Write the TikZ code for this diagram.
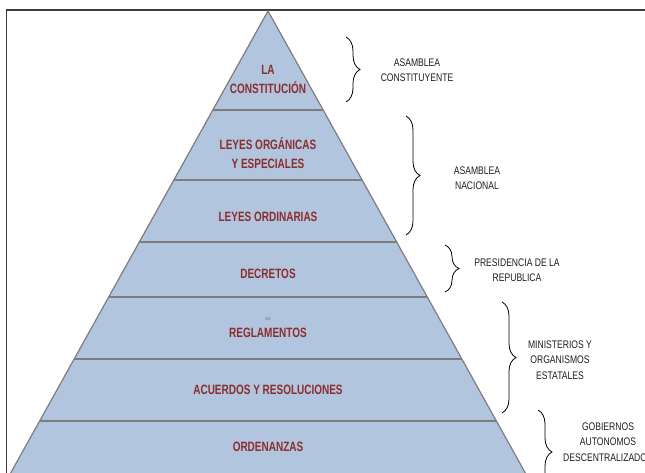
\documentclass[tikz,border=0pt]{standalone}
\usepackage{fontspec}
\setmainfont{Liberation Sans}
\newfontfamily\labfont[FakeStretch=0.74]{Liberation Sans}
\newfontfamily\sidefont[FakeStretch=0.78]{Liberation Sans}
\usetikzlibrary{decorations.pathreplacing}
\definecolor{pyrfill}{RGB}{178,197,222}
\definecolor{pyredge}{RGB}{125,125,125}
\definecolor{labred}{RGB}{140,45,45}
\definecolor{framecol}{RGB}{60,60,60}
\definecolor{sidecol}{RGB}{30,30,30}
\tikzset{
  lvl/.style={text=labred, font=\labfont\bfseries\fontsize{13.5}{19}\selectfont, align=center, inner sep=0pt},
  side/.style={text=sidecol, font=\sidefont\fontsize{11}{15.5}\selectfont, align=center, inner sep=0pt},
  brc/.style={draw=black, line width=0.8pt, decorate, decoration={brace, amplitude=14pt}},
  sep/.style={draw=pyredge, line width=1.6pt},
}
\begin{document}
\begin{tikzpicture}[x=1pt,y=-1pt]
\useasboundingbox (0,0) rectangle (645,472);
\clip (0,0) rectangle (645,472);
% frame
\draw[framecol, line width=1.5pt] (6.5,520) -- (6.5,10) -- (700,10);
% pyramid
\coordinate (apex) at (268,11);
\coordinate (bl) at ({268-0.557*489},500);
\coordinate (br) at ({268+0.557*489},500);
\fill[pyrfill] (apex) -- (bl) -- (br) -- cycle;
\foreach \yy in {110,180,242,297,359,421}{
  \draw[sep] ({268-0.557*(\yy-11)},\yy) -- ({268+0.557*(\yy-11)},\yy);
}
\draw[pyredge, line width=1.2pt] (bl) -- (apex) -- (br);
% level labels
\node[lvl] (constitucion) at (268,79) {LA\\CONSTITUCIÓN};
\node[lvl] (organicas) at (268,153) {LEYES ORGÁNICAS\\Y ESPECIALES};
\node[lvl] (ordinarias) at (268,217) {LEYES ORDINARIAS};
\node[lvl] (decretos) at (268,274) {DECRETOS};
\node[text=gray, font=\fontsize{8}{8}\selectfont, inner sep=0pt] (inf) at (268,320) {∞};
\node[lvl] (reglamentos) at (268,333) {REGLAMENTOS};
\node[lvl] (acuerdos) at (268,390) {ACUERDOS Y RESOLUCIONES};
\node[lvl] (ordenanzas) at (268,447) {ORDENANZAS};
% braces
\coordinate (b1t) at (346,37);  \coordinate (b1b) at (346,102);
\coordinate (b2t) at (406,116); \coordinate (b2b) at (406,235);
\coordinate (b3t) at (445,245); \coordinate (b3b) at (445,292);
\coordinate (b4t) at (502,302); \coordinate (b4b) at (502,413);
\coordinate (b5t) at (538,410); \coordinate (b5b) at (538,494);
\draw[brc] (b1t) -- (b1b);
\draw[brc] (b2t) -- (b2b);
\draw[brc] (b3t) -- (b3b);
\draw[brc] (b4t) -- (b4b);
\draw[brc] (b5t) -- (b5b);
% side labels
\node[side] (constituyente) at (417,70) {ASAMBLEA\\CONSTITUYENTE};
\node[side] (nacional) at (477,178) {ASAMBLEA\\NACIONAL};
\node[side] (presidencia) at (517,270) {PRESIDENCIA DE LA\\REPUBLICA};
\node[side] (ministerios) at (560,360) {MINISTERIOS Y\\ORGANISMOS\\ESTATALES};
\node[side] (gobiernos) at (608,442) {GOBIERNOS\\AUTONOMOS\\DESCENTRALIZADOS};
\end{tikzpicture}
\end{document}
